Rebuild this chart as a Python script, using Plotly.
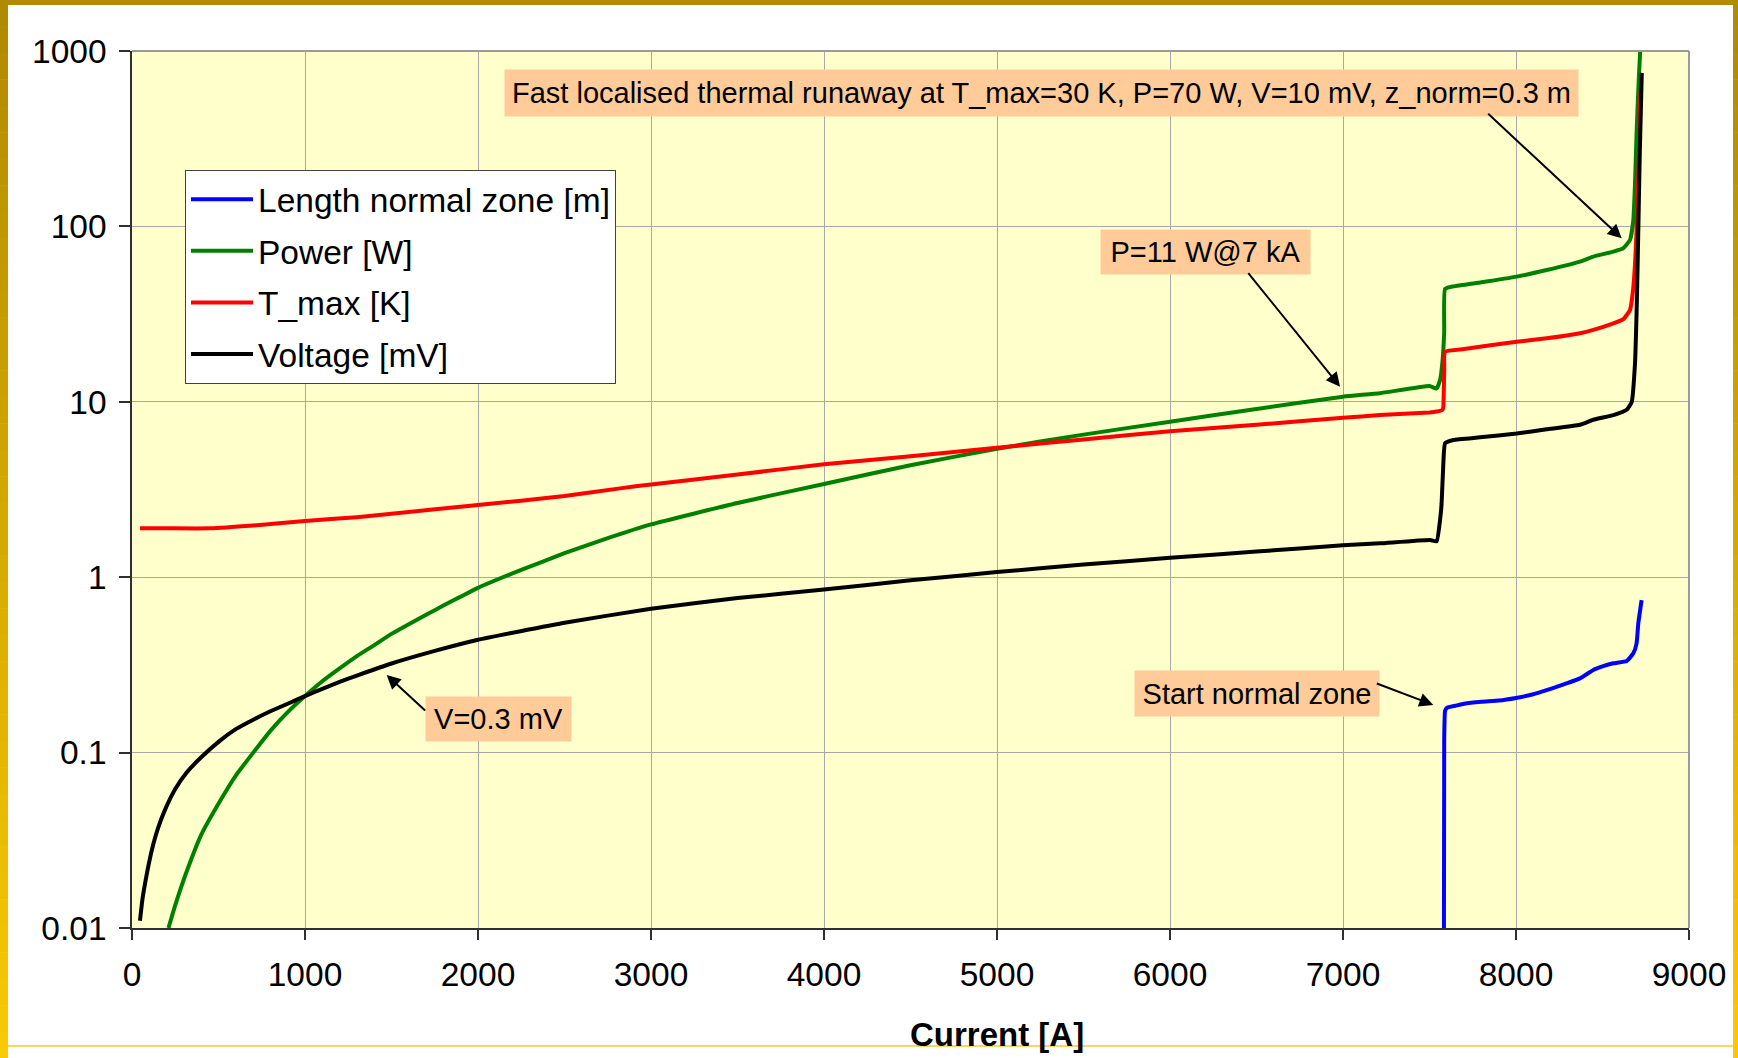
import numpy as np
import plotly.graph_objects as go

# ---------------- data ----------------
current_len = [7583, 7585, 7590, 7600, 7650, 7700, 7800, 7900, 8000, 8100, 8177, 8250,
               8370, 8447, 8500, 8563, 8640, 8678, 8697, 8707, 8726]
length_nz = [0.005, 0.12, 0.173, 0.18, 0.185, 0.19, 0.195, 0.198, 0.205, 0.215, 0.227, 0.24,
             0.265, 0.296, 0.31, 0.323, 0.333, 0.368, 0.42, 0.546, 0.74]

current_p = [211, 250, 316, 400, 509, 600, 701, 800, 900, 1000, 1100, 1200, 1300, 1400, 1500,
             1600, 1700, 1800, 1900, 2000, 2250, 2500, 2750,
             3000, 3500, 4000, 4500, 5000, 5500, 6000, 6500, 7000, 7214, 7500, 7541, 7561,
             7575, 7585, 7590, 7638, 7800, 8004, 8177, 8370, 8447, 8563, 8621, 8659, 8678,
             8688, 8697, 8710, 8720]
power = [0.01, 0.0135, 0.021, 0.034, 0.053, 0.074, 0.1, 0.133, 0.17, 0.21, 0.255, 0.302,
         0.355, 0.41, 0.475, 0.54, 0.61, 0.69, 0.775, 0.87, 1.1, 1.37, 1.67,
         2.0, 2.65, 3.4, 4.35, 5.4, 6.5, 7.7, 9.1, 10.7, 11.2, 12.3, 11.9, 13.3,
         17, 25, 44, 45.5, 48, 51.7, 56.4, 63, 67.3, 71.8, 75.2, 83.6, 108,
         176, 339, 700, 1100]

current_t = [46, 200, 451, 700, 1000, 1300, 1500, 2000, 2500, 2821, 3000, 3500, 4000, 4500,
             5000, 5500, 6000, 6500, 7000, 7214, 7500, 7541, 7575, 7580, 7585, 7590, 7700,
             8004, 8177, 8370, 8447, 8563, 8621, 8659, 8675, 8688, 8697, 8710, 8720]
t_max = [1.9, 1.9, 1.9, 1.97, 2.09, 2.2, 2.3, 2.58, 2.9, 3.21, 3.38, 3.85, 4.4, 4.9,
         5.47, 6.1, 6.8, 7.4, 8.1, 8.4, 8.7, 8.8, 9.0, 9.4, 15, 19.3, 20.0,
         22.0, 23.0, 24.6, 25.7, 28.0, 29.6, 33.4, 42, 61, 95, 250, 600]

current_v = [46, 60, 80, 100, 123, 150, 190, 250, 316, 400, 509, 600, 701, 800, 900, 1000,
             1100, 1200, 1300, 1500, 1750, 2000,
             2500, 3000, 3500, 4000, 4500, 5000, 5500, 6000, 6500, 7000, 7214, 7503, 7541,
             7561, 7570, 7580, 7590, 7638, 7792, 8004, 8177, 8370, 8447, 8563, 8640, 8669,
             8688, 8697, 8707, 8715, 8727]
voltage = [0.011, 0.0145, 0.019, 0.024, 0.030, 0.037, 0.047, 0.062, 0.077, 0.094, 0.117,
           0.136, 0.154, 0.172, 0.19, 0.21, 0.231, 0.253, 0.275, 0.322, 0.38, 0.44,
           0.55, 0.66, 0.76, 0.85, 0.96, 1.07, 1.18, 1.29, 1.40, 1.52,
           1.56, 1.63, 1.60, 2.12, 2.64, 4.46, 5.8, 6.06, 6.27, 6.6, 6.97, 7.4, 7.9, 8.4,
           9.0, 10.0, 16.6, 32, 95, 250, 750]

series_names = ["Length normal zone [m]", "Power [W]", "T_max [K]", "Voltage [mV]"]
series_colors = ["#0000FF", "#008000", "#FF0000", "#000000"]

x_tick_vals = [0, 1000, 2000, 3000, 4000, 5000, 6000, 7000, 8000, 9000]
y_tick_vals = [0.01, 0.1, 1, 10, 100, 1000]
y_tick_text = ["0.01", "0.1", "1", "10", "100", "1000"]

# text boxes: text, centre (current, value), box size px
note_texts = ["Fast localised thermal runaway at T_max=30 K, P=70 W, V=10 mV, z_norm=0.3 m",
              "P=11 W@7 kA", "V=0.3 mV", "Start normal zone"]
note_x = [5257, 6205, 2121, 6503]
note_y = [577, 71.4, 0.156, 0.218]
note_w = [1073, 209, 145, 244]
note_h = [46, 44, 44, 45]

# arrows: tip (current, value), tail offset px
arrow_x = [8611, 6983, 1472, 7522]
arrow_y = [85.5, 12.2, 0.277, 0.187]
arrow_ax = [-135, -93, 40, -58]
arrow_ay = [-126, -115, 37, -22]

FONT = "Liberation Sans, Arial, sans-serif"

# ---------------- figure ----------------
fig = go.Figure()
for i, (xs, ys, name, col) in enumerate(zip([current_len, current_p, current_t, current_v],
                                            [length_nz, power, t_max, voltage],
                                            series_names, series_colors)):
    fig.add_trace(go.Scatter(x=xs, y=ys, mode="lines", name=name, legendgroup="g%d" % i,
                             line=dict(color=col, width=4, shape="spline", smoothing=0.4)))

W, H = 1738, 1058
L, R, T, B = 132, 49, 51, 130
pw, ph = W - L - R, H - T - B


def px_x(px):
    return (px - L) / pw


def px_y(py):
    return (H - B - py) / ph


shapes = []
# golden frame (vertical gradient on the sides)
n = 40
c_top = np.array([176, 138, 0])
c_bot = np.array([250, 202, 0])
for i in range(n):
    y0 = H * i / n
    y1 = H * (i + 1) / n + 0.5
    c = c_top + (c_bot - c_top) * (i + 0.5) / n
    col = "rgb(%d,%d,%d)" % tuple(c.astype(int))
    for xa, xb in [(0, 8), (1733, 1738)]:
        shapes.append(dict(type="rect", xref="paper", yref="paper",
                           x0=px_x(xa), x1=px_x(xb), y0=px_y(y1), y1=px_y(y0),
                           fillcolor=col, line=dict(width=0), layer="above"))
shapes.append(dict(type="rect", xref="paper", yref="paper",
                   x0=px_x(0), x1=px_x(1738), y0=px_y(5), y1=px_y(0),
                   fillcolor="rgb(176,138,0)", line=dict(width=0), layer="above"))
shapes.append(dict(type="line", xref="paper", yref="paper",
                   x0=px_x(8), x1=px_x(1733), y0=px_y(1046), y1=px_y(1046),
                   line=dict(color="rgb(245,200,50)", width=1.5), layer="above"))
# grey top/right plot frame
shapes.append(dict(type="line", xref="paper", yref="paper", x0=0, x1=1, y0=1, y1=1,
                   line=dict(color="#9A9A9A", width=2), layer="above"))
shapes.append(dict(type="line", xref="paper", yref="paper", x0=1, x1=1, y0=0, y1=1,
                   line=dict(color="#9A9A9A", width=2), layer="above"))

annotations = []
for t, x, y, w, h in zip(note_texts, note_x, note_y, note_w, note_h):
    annotations.append(dict(text=t, x=x, y=np.log10(y), xref="x", yref="y",
                            xanchor="center", yanchor="middle",
                            showarrow=False, bgcolor="#FFCC99", borderpad=0,
                            width=w, height=h, font=dict(family=FONT, size=29, color="black")))
for x, y, ax, ay in zip(arrow_x, arrow_y, arrow_ax, arrow_ay):
    annotations.append(dict(text="", x=x, y=np.log10(y), xref="x", yref="y",
                            ax=ax, ay=ay, showarrow=True, arrowhead=2, arrowsize=1.4,
                            arrowwidth=2, arrowcolor="black", standoff=0))
annotations.append(dict(text="<b>Current [A]</b>", x=px_x(997), y=px_y(1034),
                        xref="paper", yref="paper", xanchor="center", yanchor="middle",
                        showarrow=False, font=dict(family=FONT, size=33, color="black")))

fig.update_layout(
    width=W, height=H,
    margin=dict(l=L, r=R, t=T, b=B, pad=0),
    paper_bgcolor="white", plot_bgcolor="#FFFFCC",
    font=dict(family=FONT, size=33, color="black"),
    showlegend=True,
    legend=dict(x=px_x(185), y=px_y(170), xanchor="left", yanchor="top",
                bgcolor="white", bordercolor="#404040", borderwidth=1,
                font=dict(family=FONT, size=33.5, color="black"),
                itemwidth=62, tracegroupgap=5, traceorder="grouped",
                entrywidth=362, entrywidthmode="pixels"),
    shapes=shapes, annotations=annotations,
)
fig.update_xaxes(range=[0, 9000], tickvals=x_tick_vals, showgrid=True,
                 gridcolor="#A8A8A8", gridwidth=1, showline=True, linecolor="#303030",
                 linewidth=1.5, ticks="outside", ticklen=10, tickcolor="#303030",
                 tickwidth=1.5, ticklabelstandoff=6, zeroline=False,
                 tickfont=dict(family=FONT, size=33.5, color="black"))
fig.update_yaxes(type="log", range=[-2, 3], tickvals=y_tick_vals, ticktext=y_tick_text,
                 showgrid=True, gridcolor="#A8A8A8", gridwidth=1, showline=True,
                 linecolor="#303030", linewidth=1.5, ticks="outside", ticklen=11,
                 tickcolor="#303030", tickwidth=1.5, ticklabelstandoff=6, zeroline=False,
                 tickfont=dict(family=FONT, size=33.5, color="black"))

fig.write_html("out.html", config={"displayModeBar": False},
               post_script="document.body.style.margin='0px';"
                           "document.body.style.overflow='hidden';")
